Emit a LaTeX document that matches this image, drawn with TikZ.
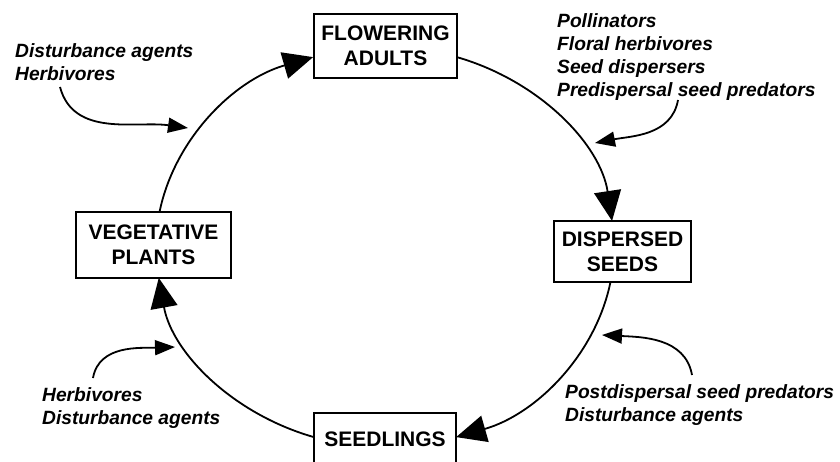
\documentclass[tikz,border=0pt]{standalone}
\usepackage{fontspec}
\setmainfont{Liberation Sans}
\usetikzlibrary{arrows.meta}
\begin{document}
\begin{tikzpicture}[x=1pt,y=1pt,
  stage/.style={draw, line width=1.7pt, inner sep=0pt, align=center,
    font=\fontsize{21}{25}\selectfont\bfseries},
  agent/.style={inner sep=0pt, align=left, anchor=north west,
    font=\fontsize{19.2}{23}\selectfont\bfseries\itshape},
  cyc/.style={line width=1.8pt, -{Triangle[length=30pt,width=27pt]}},
  infl/.style={line width=1.8pt, -{Triangle[length=20pt,width=15pt]}}]
\useasboundingbox (0,0) rectangle (840,461);
\clip (0,0) rectangle (840,461);
\fill[white] (0,0) rectangle (840,461);

% stages
\node[stage, minimum width=143pt, minimum height=64pt] (fa) at (385.5,415) {FLOWERING\\ADULTS};
\node[stage, minimum width=137pt, minimum height=61pt] (ds) at (622.5,209.5) {DISPERSED\\SEEDS};
\node[stage, minimum width=155pt, minimum height=66pt] (vp) at (153.5,216) {VEGETATIVE\\PLANTS};
\node[stage, minimum width=142pt, minimum height=52pt] (se) at (385,22) {SEEDLINGS};

% life cycle (ellipse through the four stages)
\coordinate (E) at (385,214);
\path (E) ++(71.7:229 and 200) coordinate (faout);
\path (E) ++(-10.2:229 and 200) coordinate (dsout);
\path (E) ++(-108.1:229 and 200) coordinate (seout);
\path (E) ++(169.9:229 and 200) coordinate (vpout);
\draw[cyc] (faout) arc[start angle=71.7, end angle=7.5, x radius=229, y radius=200];
\draw[cyc] (dsout) arc[start angle=-10.2, end angle=-71.9, x radius=229, y radius=200];
\draw[cyc] (seout) arc[start angle=-108.1, end angle=-171.1, x radius=229, y radius=200];
\draw[cyc] (vpout) arc[start angle=169.9, end angle=108.3, x radius=229, y radius=200];

% agents
\node[agent] (t1) at (15,418) {Disturbance agents\\Herbivores};
\node[agent] (t2) at (557,448) {Pollinators\\Floral herbivores\\Seed dispersers\\Predispersal seed predators};
\node[agent] (t3) at (565,77) {Postdispersal seed predators\\Disturbance agents};
\node[agent] (t4) at (42,74) {Herbivores\\Disturbance agents};

% influence arrows
\coordinate (a1) at (60,374); \coordinate (a1t) at (188,333);
\coordinate (b1) at (678,361); \coordinate (b1t) at (595,318);
\coordinate (c1) at (692,86);  \coordinate (c1t) at (602,126);
\coordinate (d1) at (93,83);   \coordinate (d1t) at (175,114);
\draw[infl] (a1) to[out=-75,in=172] (a1t);
\draw[infl] (b1) to[out=-100,in=11] (b1t);
\draw[infl] (c1) to[out=100,in=-3] (c1t);
\draw[infl] (d1) to[out=80,in=182] (d1t);
\end{tikzpicture}
\end{document}
